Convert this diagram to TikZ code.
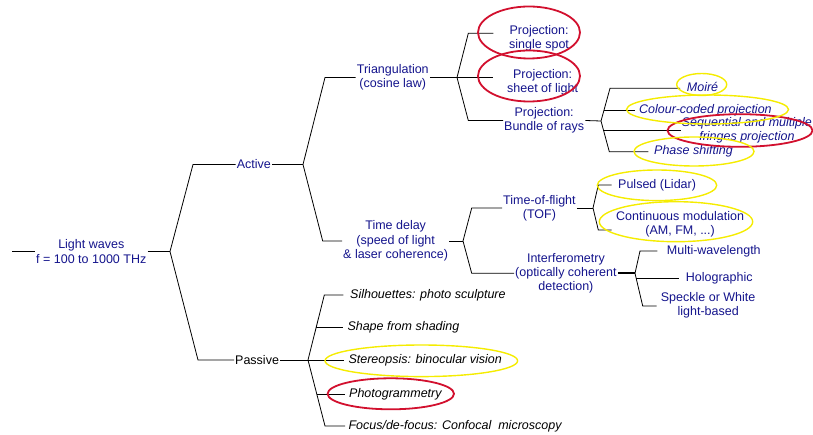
\documentclass[tikz,border=0pt]{standalone}
\usepackage{fontspec}
\setmainfont{Liberation Sans}
\definecolor{inkblue}{HTML}{14148C}
\definecolor{ringred}{HTML}{D2102E}
\definecolor{ringyel}{HTML}{F5EC00}

\begin{document}
\begin{tikzpicture}[x=1pt,y=-1pt,
  lbl/.style={anchor=west,inner sep=1pt,align=center,text=inkblue,font=\fontsize{12.5}{14.3}\selectfont},
  lbli/.style={lbl,font=\fontsize{12.5}{14.3}\selectfont\itshape},
  blk/.style={lbl,text=black},
  blki/.style={lbli,text=black},
  link/.style={draw=black,line width=0.8pt},
  heavy/.style={draw=black,line width=2pt},
  redring/.style={draw=ringred,line width=1.8pt},
  yelring/.style={draw=ringyel,line width=1.4pt}]
\useasboundingbox (0,0) rectangle (813,435);

\node[lbl] (light) at (35,251.5) {Light waves\\f = 100 to 1000 THz};
\node[lbl] (act) at (235.7,164.5) {Active};
\node[blk] (pas) at (234,360) {Passive};
\node[lbl] (tri) at (355.7,77.5) {Triangulation\\(cosine law)};
\node[lbl] (tdel) at (342,241) {Time delay\\(speed of light\\\& laser coherence)};
\node[lbl] (spot) at (508,38.5) {Projection:\\single spot};
\node[lbl] (sheet) at (506,82.2) {Projection:\\sheet of light};
\node[lbl] (bun) at (503,120.5) {Projection:\\Bundle of rays};
\node[lbli] (moire) at (685.7,87) {Moiré};
\node[lbli] (colour) at (638,110) {Colour-coded projection};
\node[lbli] (seq) at (680.7,130.5) {Sequential and multiple\\fringes projection};
\node[lbli] (phase) at (653,151.7) {Phase shifting};
\node[lbl] (tof) at (502,208) {Time-of-flight\\(TOF)};
\node[lbl] (int) at (514,273.3) {Interferometry\\(optically coherent\\detection)};
\node[lbl] (pulsed) at (617,185) {Pulsed (Lidar)};
\node[lbl] (cont) at (615,224) {Continuous modulation\\(AM, FM, ...)};
\node[lbl] (multi) at (665.7,251) {Multi-wavelength};
\node[lbl] (holo) at (684.7,278) {Holographic};
\node[lbl] (speck) at (659.7,305) {Speckle or White\\light-based};
\node[blki] (sil) at (349,295) {Silhouettes: photo sculpture};
\node[blki] (shade) at (346.3,327.7) {Shape from shading};
\node[blki] (stereo) at (347.3,360) {Stereopsis: binocular vision};
\node[blki] (photo) at (348,394) {Photogrammetry};
\node[blki] (focus) at (347.3,426) {Focus/de-focus: Confocal~ microscopy};

\coordinate (src) at (12,251.5);
\coordinate (bRoot) at (170,251.5);
\coordinate (bAct) at (303,164.5);
\coordinate (bPas) at (308,360);
\coordinate (bTri) at (457,77.5);
\coordinate (bBun) at (601,121);
\coordinate (sBun1) at (604,110);
\coordinate (sBun2) at (603.6,130.5);
\coordinate (bTime) at (463,241);
\coordinate (bTof) at (593,208);
\coordinate (bInt) at (635,273.3);
\coordinate (sInt) at (636.1,278);
\coordinate (sPas1) at (316.1,327.7);
\coordinate (sPas2) at (316.8,394);

\draw[link] (src) -- (light.west);
\draw[link] (light.east) -- (bRoot);
\draw[link] (bRoot) -- ([xshift=-42.7]act.west) -- (act.west);
\draw[link] (bRoot) -- ([xshift=-36]pas.west) -- (pas.west);
\draw[link] (act.east) -- (bAct);
\draw[link] (pas.east) -- (bPas);
\draw[link] (bAct) -- ([xshift=-30.7]tri.west) -- (tri.west);
\draw[link] (bAct) -- ([xshift=-19.3]tdel.west) -- (tdel.west);
\draw[link] (tri.east) -- (bTri);
\draw[link] (tdel.east) -- (bTime);

\draw[link] (bTri) -- ([xshift=-39.7,yshift=5.2]spot.west) -- ([xshift=-14.7,yshift=5.2]spot.west);
\draw[link] (bTri) -- ([xshift=-12.7,yshift=4.7]sheet.west);
\draw[link] (bTri) -- ([xshift=-34.7]bun.west) -- (bun.west);
\draw[link] (bun.east) -- (bBun);

\draw[link] (bBun) -- ([xshift=-75.7,yshift=-1.3]moire.west) -- ([xshift=-5.7,yshift=-1.3]moire.west);
\draw[link] (sBun1) -- ([xshift=-3]colour.west);
\draw[link] (sBun2) -- (seq.west);
\draw[link] (bBun) -- ([xshift=-43.7]phase.west) -- ([xshift=-4.7]phase.west);

\draw[link] (bTime) -- ([xshift=-30.3]tof.west) -- (tof.west);
\draw[link] (bTime) -- ([xshift=-42.3]int.west) -- (int.west);
\draw[link] (tof.east) -- (bTof);
\draw[heavy] (int.east) -- (bInt);
\draw[link] (bTof) -- ([xshift=-18.7]pulsed.west) -- ([xshift=-5.3]pulsed.west);
\draw[link] (bTof) -- ([xshift=-16.7,yshift=-6]cont.west) -- ([xshift=-3.3,yshift=-6]cont.west);
\draw[link] (bInt) -- ([xshift=-25.7]multi.west) -- ([xshift=-8.4]multi.west);
\draw[link] (sInt) -- ([xshift=-5.4]holo.west);
\draw[link] (bInt) -- ([xshift=-17,yshift=-1]speck.west) -- ([xshift=-3,yshift=-1]speck.west);

\draw[link] (bPas) -- ([xshift=-24.7]sil.west) -- ([xshift=-5.7]sil.west);
\draw[link] (sPas1) -- ([xshift=-3]shade.west);
\draw[link] (bPas) -- ([xshift=-3]stereo.west);
\draw[link] (sPas2) -- ([xshift=-3]photo.west);
\draw[link] (bPas) -- ([xshift=-22.3]focus.west) -- ([xshift=-2.3]focus.west);

% highlight rings
\draw[redring] (529,32.5) ellipse [x radius=51,y radius=26];
\draw[redring] (529,76) ellipse [x radius=51,y radius=25.5];
\draw[redring] (740,130.5) ellipse [x radius=72.5,y radius=16.3];
\draw[redring] (390.8,393.8) ellipse [x radius=63.2,y radius=15.5];
\draw[yelring] (701.7,84.5) ellipse [x radius=25,y radius=11];
\draw[yelring] (707.5,109.5) ellipse [x radius=81,y radius=14.5];
\draw[yelring] (694,151.5) ellipse [x radius=60,y radius=14.5];
\draw[yelring] (657,185.3) ellipse [x radius=59.7,y radius=15.3];
\draw[yelring] (676,221.7) ellipse [x radius=76.7,y radius=20];
\draw[yelring] (421.3,360.8) ellipse [x radius=96.3,y radius=15.8];
\end{tikzpicture}
\end{document}
